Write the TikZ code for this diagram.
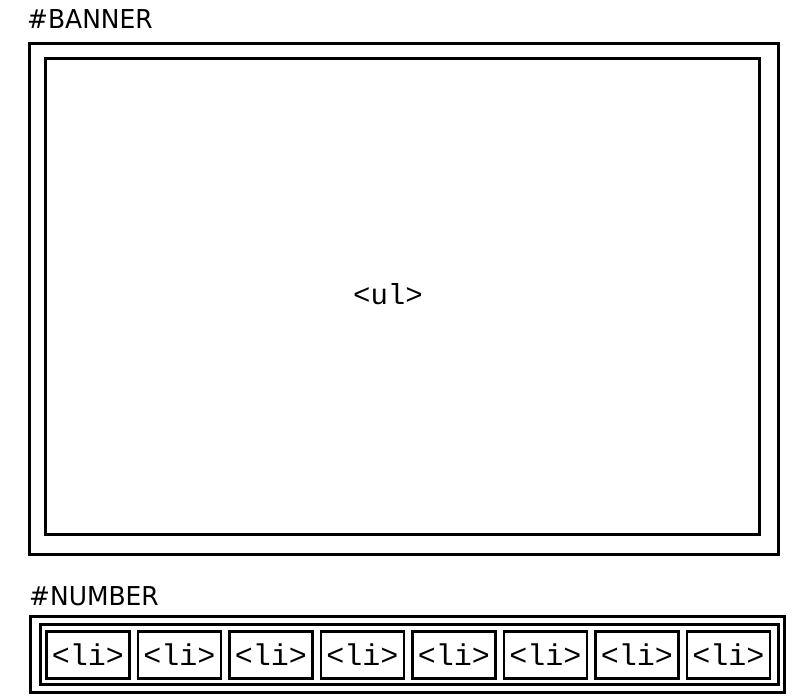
\documentclass[tikz,border=0pt]{standalone}
\usepackage{fontspec}
\newfontfamily\lblfont[FakeStretch=0.96]{DejaVu Sans}
\newfontfamily\codefont{Liberation Mono}
\begin{document}
\begin{tikzpicture}[x=1pt,y=-1pt,
  boxline/.style={draw=black,line width=2.6pt,inner sep=0pt,anchor=north west},
  lbl/.style={font=\lblfont\fontsize{26}{30}\selectfont,inner sep=0pt,anchor=base west},
  code/.style={font=\codefont\fontsize{29}{32}\selectfont,inner sep=0pt},
  libox/.style={boxline,minimum width=83pt,minimum height=47pt,anchor=north west,
    font=\codefont\fontsize{30}{32}\selectfont}]
\useasboundingbox[fill=white] (0,0) rectangle (800,700);
% banner
\node[lbl] (bannerlbl) at (27,29) {\#BANNER};
\node[boxline,minimum width=749pt,minimum height=511pt] (banner) at (28,42) {};
\node[boxline,minimum width=714pt,minimum height=476pt] (ul) at (44,57) {};
\node[code,anchor=base] (ultext) at (388,305) {<ul>};
% number
\node[lbl] (numberlbl) at (29,605) {\#NUMBER};
\node[boxline,minimum width=754pt,minimum height=76pt] (number) at (29,615) {};
\node[boxline,minimum width=738pt,minimum height=60pt] (numinner) at (39,623) {};
\foreach \i in {0,...,7}{
  \node[libox] (li\i) at ({45+\i*91.5},630) {<li>};
}
\end{tikzpicture}
\end{document}
